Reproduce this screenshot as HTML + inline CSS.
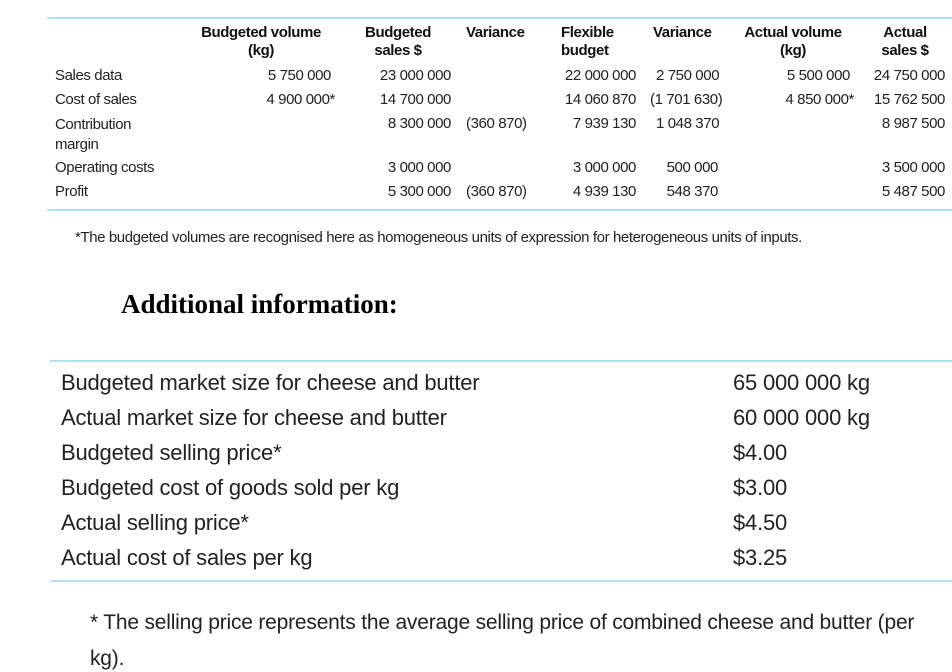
<!DOCTYPE html>
<html><head><meta charset="utf-8">
<style>
body{margin:0;width:952px;height:656px;background:#fff;position:relative;overflow:hidden;font-family:"Liberation Sans",sans-serif;color:#222}
.t{position:absolute;font-size:15px;line-height:18px;white-space:nowrap;letter-spacing:-0.4px}
.b{font-weight:bold;color:#111}
.r{text-align:right}
.c{text-align:center}
.line{position:absolute;height:2px;background:#b6e0f4}
.big{position:absolute;font-size:22px;line-height:26px;white-space:nowrap;letter-spacing:-0.2px;color:#222}
</style></head><body>
<div class="line" style="left:47px;top:17px;width:905px"></div>
<div class="line" style="left:47px;top:209px;width:905px"></div>

<div class="t b c" style="left:181px;top:24px;width:160px">Budgeted volume<br>(kg)</div>
<div class="t b c" style="left:353px;top:24px;width:90px">Budgeted<br>sales $</div>
<div class="t b" style="left:466px;top:24px">Variance</div>
<div class="t b" style="left:561px;top:24px">Flexible<br>budget</div>
<div class="t b" style="left:653px;top:24px">Variance</div>
<div class="t b c" style="left:723px;top:24px;width:140px">Actual volume<br>(kg)</div>
<div class="t b c" style="left:865px;top:24px;width:80px">Actual<br>sales $</div>

<div class="t" style="left:55px;top:67px">Sales data</div>
<div class="t" style="left:55px;top:91px">Cost of sales</div>
<div class="t" style="left:55px;top:115px;line-height:20px">Contribution<br>margin</div>
<div class="t" style="left:55px;top:159px">Operating costs</div>
<div class="t" style="left:55px;top:183px">Profit</div>

<div class="t r" style="right:621px;top:67px">5 750 000</div>
<div class="t r" style="right:617px;top:91px">4 900 000*</div>
<div class="t r" style="right:501px;top:67px">23 000 000</div>
<div class="t r" style="right:501px;top:91px">14 700 000</div>
<div class="t r" style="right:501px;top:115px">8 300 000</div>
<div class="t r" style="right:501px;top:159px">3 000 000</div>
<div class="t r" style="right:501px;top:183px">5 300 000</div>
<div class="t" style="left:466px;top:115px">(360 870)</div>
<div class="t" style="left:466px;top:183px">(360 870)</div>
<div class="t r" style="right:316px;top:67px">22 000 000</div>
<div class="t r" style="right:316px;top:91px">14 060 870</div>
<div class="t r" style="right:316px;top:115px">7 939 130</div>
<div class="t r" style="right:316px;top:159px">3 000 000</div>
<div class="t r" style="right:316px;top:183px">4 939 130</div>
<div class="t" style="left:656px;top:67px">2 750 000</div>
<div class="t" style="left:650px;top:91px">(1 701 630)</div>
<div class="t" style="left:656px;top:115px">1 048 370</div>
<div class="t r" style="right:234px;top:159px">500 000</div>
<div class="t r" style="right:234px;top:183px">548 370</div>
<div class="t r" style="right:102px;top:67px">5 500 000</div>
<div class="t r" style="right:98px;top:91px">4 850 000*</div>
<div class="t r" style="right:7px;top:67px">24 750 000</div>
<div class="t r" style="right:7px;top:91px">15 762 500</div>
<div class="t r" style="right:7px;top:115px">8 987 500</div>
<div class="t r" style="right:7px;top:159px">3 500 000</div>
<div class="t r" style="right:7px;top:183px">5 487 500</div>

<div class="t" style="left:75px;top:229px">*The budgeted volumes are recognised here as homogeneous units of expression for heterogeneous units of inputs.</div>

<div style="position:absolute;left:121px;top:288px;font-family:'Liberation Serif',serif;font-weight:bold;font-size:27px;line-height:32px;color:#000">Additional information:</div>

<div class="line" style="left:50px;top:360px;width:902px"></div>
<div class="line" style="left:50px;top:580px;width:902px"></div>

<div class="big" style="left:61px;top:370px">Budgeted market size for cheese and butter</div>
<div class="big" style="left:61px;top:405px">Actual market size for cheese and butter</div>
<div class="big" style="left:61px;top:440px">Budgeted selling price*</div>
<div class="big" style="left:61px;top:475px">Budgeted cost of goods sold per kg</div>
<div class="big" style="left:61px;top:510px">Actual selling price*</div>
<div class="big" style="left:61px;top:545px">Actual cost of sales per kg</div>

<div class="big" style="left:733px;top:370px">65 000 000 kg</div>
<div class="big" style="left:733px;top:405px">60 000 000 kg</div>
<div class="big" style="left:733px;top:440px">$4.00</div>
<div class="big" style="left:733px;top:475px">$3.00</div>
<div class="big" style="left:733px;top:510px">$4.50</div>
<div class="big" style="left:733px;top:545px">$3.25</div>

<div class="big" style="left:90px;top:610px;font-size:21px">* The selling price represents the average selling price of combined cheese and butter (per</div>
<div class="big" style="left:90px;top:646px;font-size:21px">kg).</div>
</body></html>
